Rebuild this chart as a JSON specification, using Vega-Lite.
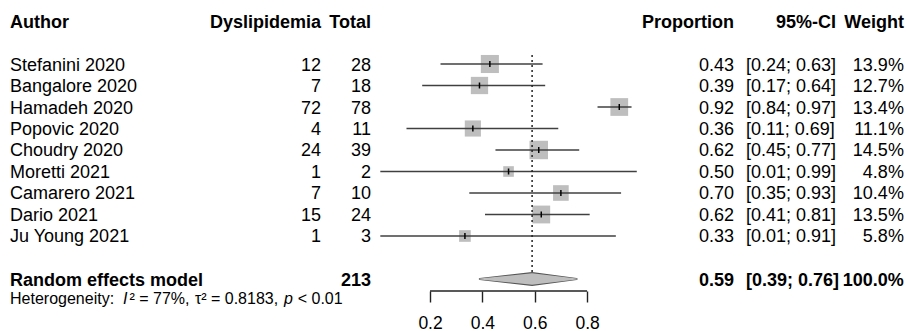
{
  "$schema": "https://vega.github.io/schema/vega-lite/v6.json",
  "width": 908,
  "height": 331,
  "autosize": {"type": "none"},
  "padding": 0,
  "background": "white",
  "config": {
    "view": {"stroke": null},
    "axisY": {"disable": true},
    "axisX": {
      "domain": false, "grid": false, "offset": -40, "tickSize": 11, "tickColor": "#222", "tickWidth": 1.4,
      "labelFontSize": 17.5, "labelFont": "Liberation Sans", "labelColor": "black",
      "labelBaseline": "alphabetic", "labelPadding": 26, "labelFlush": false, "labelOverlap": false
    },
    "text": {"font": "Liberation Sans", "fontSize": 18, "baseline": "middle", "color": "black", "dy": 1.5}
  },
  "datasets": {
    "studies": [
      {"author": "Stefanini 2020", "ev": 12, "n": 28, "p": 0.4286, "lo": 0.24, "hi": 0.63, "w": 13.9, "pt": "0.43", "ci": "[0.24; 0.63]", "wt": "13.9%", "row": 1},
      {"author": "Bangalore 2020", "ev": 7, "n": 18, "p": 0.3889, "lo": 0.17, "hi": 0.64, "w": 12.7, "pt": "0.39", "ci": "[0.17; 0.64]", "wt": "12.7%", "row": 2},
      {"author": "Hamadeh 2020", "ev": 72, "n": 78, "p": 0.9231, "lo": 0.84, "hi": 0.97, "w": 13.4, "pt": "0.92", "ci": "[0.84; 0.97]", "wt": "13.4%", "row": 3},
      {"author": "Popovic 2020", "ev": 4, "n": 11, "p": 0.3636, "lo": 0.11, "hi": 0.69, "w": 11.1, "pt": "0.36", "ci": "[0.11; 0.69]", "wt": "11.1%", "row": 4},
      {"author": "Choudry 2020", "ev": 24, "n": 39, "p": 0.6154, "lo": 0.45, "hi": 0.77, "w": 14.5, "pt": "0.62", "ci": "[0.45; 0.77]", "wt": "14.5%", "row": 5},
      {"author": "Moretti 2021", "ev": 1, "n": 2, "p": 0.5, "lo": 0.01, "hi": 0.99, "w": 4.8, "pt": "0.50", "ci": "[0.01; 0.99]", "wt": "4.8%", "row": 6},
      {"author": "Camarero 2021", "ev": 7, "n": 10, "p": 0.7, "lo": 0.35, "hi": 0.93, "w": 10.4, "pt": "0.70", "ci": "[0.35; 0.93]", "wt": "10.4%", "row": 7},
      {"author": "Dario 2021", "ev": 15, "n": 24, "p": 0.625, "lo": 0.41, "hi": 0.81, "w": 13.5, "pt": "0.62", "ci": "[0.41; 0.81]", "wt": "13.5%", "row": 8},
      {"author": "Ju Young 2021", "ev": 1, "n": 3, "p": 0.3333, "lo": 0.01, "hi": 0.91, "w": 5.8, "pt": "0.33", "ci": "[0.01; 0.91]", "wt": "5.8%", "row": 9}
    ],
    "summary": [
      {"author": "Random effects model", "n": 213, "p": 0.59, "lo": 0.39, "hi": 0.76, "pt": "0.59", "ci": "[0.39; 0.76]", "wt": "100.0%"}
    ],
    "diamond": [
      {"part": "lower", "x": 0.39},
      {"part": "est", "x": 0.59},
      {"part": "upper", "x": 0.76}
    ],
    "one": [{}]
  },
  "resolve": {"scale": {"size": "independent"}},
  "layer": [
    {
      "data": {"name": "studies"},
      "mark": {"type": "point", "shape": "square", "filled": true, "color": "#bebebe", "opacity": 1},
      "encoding": {
        "x": {
          "field": "p", "type": "quantitative",
          "scale": {"domain": [-1.4433, 2.0264], "nice": false, "zero": false},
          "axis": {"values": [0.2, 0.4, 0.6, 0.8], "title": null, "format": ".1f"}
        },
        "y": {"field": "row", "type": "quantitative", "scale": {"domain": [-1.977, 13.419], "reverse": true, "nice": false, "zero": false}},
        "size": {"field": "w", "type": "quantitative", "scale": {"domain": [0, 100], "range": [0, 2350]}, "legend": null}
      }
    },
    {
      "data": {"name": "studies"},
      "mark": {"type": "rule", "color": "#404040", "strokeWidth": 1.6},
      "encoding": {
        "x": {"field": "lo", "type": "quantitative", "axis": {"values": [0.2, 0.4, 0.6, 0.8], "title": null, "format": ".1f"}},
        "x2": {"field": "hi"},
        "y": {"field": "row", "type": "quantitative"}
      }
    },
    {
      "data": {"name": "studies"},
      "mark": {"type": "point", "shape": "M0,-1L0,1", "filled": false, "stroke": "black", "strokeWidth": 1.5, "size": 36, "opacity": 1},
      "encoding": {
        "x": {"field": "p", "type": "quantitative", "axis": {"values": [0.2, 0.4, 0.6, 0.8], "title": null, "format": ".1f"}},
        "y": {"field": "row", "type": "quantitative"}
      }
    },
    {
      "data": {"name": "summary"},
      "mark": {"type": "rule", "strokeDash": [2, 3], "color": "#222", "strokeWidth": 1.5},
      "encoding": {
        "x": {"field": "p", "type": "quantitative", "axis": {"values": [0.2, 0.4, 0.6, 0.8], "title": null, "format": ".1f"}},
        "y": {"datum": 0.58, "type": "quantitative"},
        "y2": {"datum": 10.72}
      }
    },
    {
      "data": {"name": "diamond"},
      "mark": {"type": "trail", "color": "#555555"},
      "encoding": {
        "x": {"field": "x", "type": "quantitative", "axis": {"values": [0.2, 0.4, 0.6, 0.8], "title": null, "format": ".1f"}},
        "y": {"datum": 11, "type": "quantitative"},
        "size": {"field": "part", "type": "nominal", "scale": {"type": "ordinal", "domain": ["lower", "est", "upper"], "range": [2, 14, 2]}, "legend": null}
      }
    },
    {
      "data": {"name": "diamond"},
      "mark": {"type": "trail", "color": "#bebebe"},
      "encoding": {
        "x": {"field": "x", "type": "quantitative", "axis": {"values": [0.2, 0.4, 0.6, 0.8], "title": null, "format": ".1f"}},
        "y": {"datum": 11, "type": "quantitative"},
        "size": {"field": "part", "type": "nominal", "scale": {"type": "ordinal", "domain": ["lower", "est", "upper"], "range": [0, 11.5, 0]}, "legend": null}
      }
    },
    {
      "data": {"name": "one"},
      "mark": {"type": "rule", "color": "#222", "strokeWidth": 1.4},
      "encoding": {
        "x": {"datum": 0.2, "type": "quantitative", "axis": {"values": [0.2, 0.4, 0.6, 0.8], "title": null, "format": ".1f"}},
        "x2": {"datum": 0.8},
        "y": {"datum": 11.558, "type": "quantitative"}
      }
    },
    {
      "data": {"name": "studies"},
      "mark": {"type": "text", "align": "left"},
      "encoding": {
        "x": {"datum": -1.405, "type": "quantitative", "axis": {"values": [0.2, 0.4, 0.6, 0.8], "title": null, "format": ".1f"}},
        "y": {"field": "row", "type": "quantitative"},
        "text": {"field": "author"}
      }
    },
    {
      "data": {"name": "studies"},
      "mark": {"type": "text", "align": "right"},
      "encoding": {
        "x": {"datum": -0.2167, "type": "quantitative", "axis": {"values": [0.2, 0.4, 0.6, 0.8], "title": null, "format": ".1f"}},
        "y": {"field": "row", "type": "quantitative"},
        "text": {"field": "ev"}
      }
    },
    {
      "data": {"name": "studies"},
      "mark": {"type": "text", "align": "right"},
      "encoding": {
        "x": {"datum": -0.0256, "type": "quantitative", "axis": {"values": [0.2, 0.4, 0.6, 0.8], "title": null, "format": ".1f"}},
        "y": {"field": "row", "type": "quantitative"},
        "text": {"field": "n"}
      }
    },
    {
      "data": {"name": "studies"},
      "mark": {"type": "text", "align": "right"},
      "encoding": {
        "x": {"datum": 1.3615, "type": "quantitative", "axis": {"values": [0.2, 0.4, 0.6, 0.8], "title": null, "format": ".1f"}},
        "y": {"field": "row", "type": "quantitative"},
        "text": {"field": "pt"}
      }
    },
    {
      "data": {"name": "studies"},
      "mark": {"type": "text", "align": "left"},
      "encoding": {
        "x": {"datum": 1.4073, "type": "quantitative", "axis": {"values": [0.2, 0.4, 0.6, 0.8], "title": null, "format": ".1f"}},
        "y": {"field": "row", "type": "quantitative"},
        "text": {"field": "ci"}
      }
    },
    {
      "data": {"name": "studies"},
      "mark": {"type": "text", "align": "right"},
      "encoding": {
        "x": {"datum": 2.0107, "type": "quantitative", "axis": {"values": [0.2, 0.4, 0.6, 0.8], "title": null, "format": ".1f"}},
        "y": {"field": "row", "type": "quantitative"},
        "text": {"field": "wt"}
      }
    },
    {
      "data": {"name": "summary"},
      "mark": {"type": "text", "align": "left", "fontWeight": "bold"},
      "encoding": {
        "x": {"datum": -1.405, "type": "quantitative", "axis": {"values": [0.2, 0.4, 0.6, 0.8], "title": null, "format": ".1f"}},
        "y": {"datum": 11.04, "type": "quantitative"},
        "text": {"field": "author"}
      }
    },
    {
      "data": {"name": "summary"},
      "mark": {"type": "text", "align": "right", "fontWeight": "bold"},
      "encoding": {
        "x": {"datum": -0.0256, "type": "quantitative", "axis": {"values": [0.2, 0.4, 0.6, 0.8], "title": null, "format": ".1f"}},
        "y": {"datum": 11.04, "type": "quantitative"},
        "text": {"field": "n"}
      }
    },
    {
      "data": {"name": "summary"},
      "mark": {"type": "text", "align": "right", "fontWeight": "bold"},
      "encoding": {
        "x": {"datum": 1.3615, "type": "quantitative", "axis": {"values": [0.2, 0.4, 0.6, 0.8], "title": null, "format": ".1f"}},
        "y": {"datum": 11.04, "type": "quantitative"},
        "text": {"field": "pt"}
      }
    },
    {
      "data": {"name": "summary"},
      "mark": {"type": "text", "align": "left", "fontWeight": "bold"},
      "encoding": {
        "x": {"datum": 1.4073, "type": "quantitative", "axis": {"values": [0.2, 0.4, 0.6, 0.8], "title": null, "format": ".1f"}},
        "y": {"datum": 11.04, "type": "quantitative"},
        "text": {"field": "ci"}
      }
    },
    {
      "data": {"name": "summary"},
      "mark": {"type": "text", "align": "right", "fontWeight": "bold"},
      "encoding": {
        "x": {"datum": 2.0107, "type": "quantitative", "axis": {"values": [0.2, 0.4, 0.6, 0.8], "title": null, "format": ".1f"}},
        "y": {"datum": 11.04, "type": "quantitative"},
        "text": {"field": "wt"}
      }
    },
    {
      "data": {"name": "one"},
      "mark": {"type": "text", "align": "left", "fontWeight": "bold"},
      "encoding": {
        "x": {"datum": -1.405, "type": "quantitative", "axis": {"values": [0.2, 0.4, 0.6, 0.8], "title": null, "format": ".1f"}},
        "y": {"datum": -1, "type": "quantitative"},
        "text": {"value": "Author"}
      }
    },
    {
      "data": {"name": "one"},
      "mark": {"type": "text", "align": "right", "fontWeight": "bold"},
      "encoding": {
        "x": {"datum": -0.2167, "type": "quantitative", "axis": {"values": [0.2, 0.4, 0.6, 0.8], "title": null, "format": ".1f"}},
        "y": {"datum": -1, "type": "quantitative"},
        "text": {"value": "Dyslipidemia"}
      }
    },
    {
      "data": {"name": "one"},
      "mark": {"type": "text", "align": "right", "fontWeight": "bold"},
      "encoding": {
        "x": {"datum": -0.0256, "type": "quantitative", "axis": {"values": [0.2, 0.4, 0.6, 0.8], "title": null, "format": ".1f"}},
        "y": {"datum": -1, "type": "quantitative"},
        "text": {"value": "Total"}
      }
    },
    {
      "data": {"name": "one"},
      "mark": {"type": "text", "align": "right", "fontWeight": "bold"},
      "encoding": {
        "x": {"datum": 1.3615, "type": "quantitative", "axis": {"values": [0.2, 0.4, 0.6, 0.8], "title": null, "format": ".1f"}},
        "y": {"datum": -1, "type": "quantitative"},
        "text": {"value": "Proportion"}
      }
    },
    {
      "data": {"name": "one"},
      "mark": {"type": "text", "align": "right", "fontWeight": "bold"},
      "encoding": {
        "x": {"datum": 1.7512, "type": "quantitative", "axis": {"values": [0.2, 0.4, 0.6, 0.8], "title": null, "format": ".1f"}},
        "y": {"datum": -1, "type": "quantitative"},
        "text": {"value": "95%-CI"}
      }
    },
    {
      "data": {"name": "one"},
      "mark": {"type": "text", "align": "right", "fontWeight": "bold"},
      "encoding": {
        "x": {"datum": 2.0107, "type": "quantitative", "axis": {"values": [0.2, 0.4, 0.6, 0.8], "title": null, "format": ".1f"}},
        "y": {"datum": -1, "type": "quantitative"},
        "text": {"value": "Weight"}
      }
    },
    {
      "data": {"name": "one"},
      "mark": {"type": "text", "align": "left", "fontSize": 16, "dy": 1},
      "encoding": {
        "x": {"datum": -1.405, "type": "quantitative", "axis": {"values": [0.2, 0.4, 0.6, 0.8], "title": null, "format": ".1f"}},
        "y": {"datum": 11.88, "type": "quantitative"},
        "text": {"value": "Heterogeneity:"}
      }
    },
    {
      "data": {"name": "one"},
      "mark": {"type": "text", "align": "left", "fontSize": 16, "dy": 1, "fontStyle": "italic"},
      "encoding": {
        "x": {"datum": -0.9733, "type": "quantitative", "axis": {"values": [0.2, 0.4, 0.6, 0.8], "title": null, "format": ".1f"}},
        "y": {"datum": 11.88, "type": "quantitative"},
        "text": {"value": "I"}
      }
    },
    {
      "data": {"name": "one"},
      "mark": {"type": "text", "align": "left", "fontSize": 16, "dy": 1},
      "encoding": {
        "x": {"datum": -0.9484, "type": "quantitative", "axis": {"values": [0.2, 0.4, 0.6, 0.8], "title": null, "format": ".1f"}},
        "y": {"datum": 11.88, "type": "quantitative"},
        "text": {"value": "² = 77%,"}
      }
    },
    {
      "data": {"name": "one"},
      "mark": {"type": "text", "align": "left", "fontSize": 16, "dy": 1},
      "encoding": {
        "x": {"datum": -0.6986, "type": "quantitative", "axis": {"values": [0.2, 0.4, 0.6, 0.8], "title": null, "format": ".1f"}},
        "y": {"datum": 11.88, "type": "quantitative"},
        "text": {"value": "τ² = 0.8183,"}
      }
    },
    {
      "data": {"name": "one"},
      "mark": {"type": "text", "align": "left", "fontSize": 16, "dy": 1, "fontStyle": "italic"},
      "encoding": {
        "x": {"datum": -0.358, "type": "quantitative", "axis": {"values": [0.2, 0.4, 0.6, 0.8], "title": null, "format": ".1f"}},
        "y": {"datum": 11.88, "type": "quantitative"},
        "text": {"value": "p"}
      }
    },
    {
      "data": {"name": "one"},
      "mark": {"type": "text", "align": "left", "fontSize": 16, "dy": 1},
      "encoding": {
        "x": {"datum": -0.3057, "type": "quantitative", "axis": {"values": [0.2, 0.4, 0.6, 0.8], "title": null, "format": ".1f"}},
        "y": {"datum": 11.88, "type": "quantitative"},
        "text": {"value": "< 0.01"}
      }
    }
  ]
}
